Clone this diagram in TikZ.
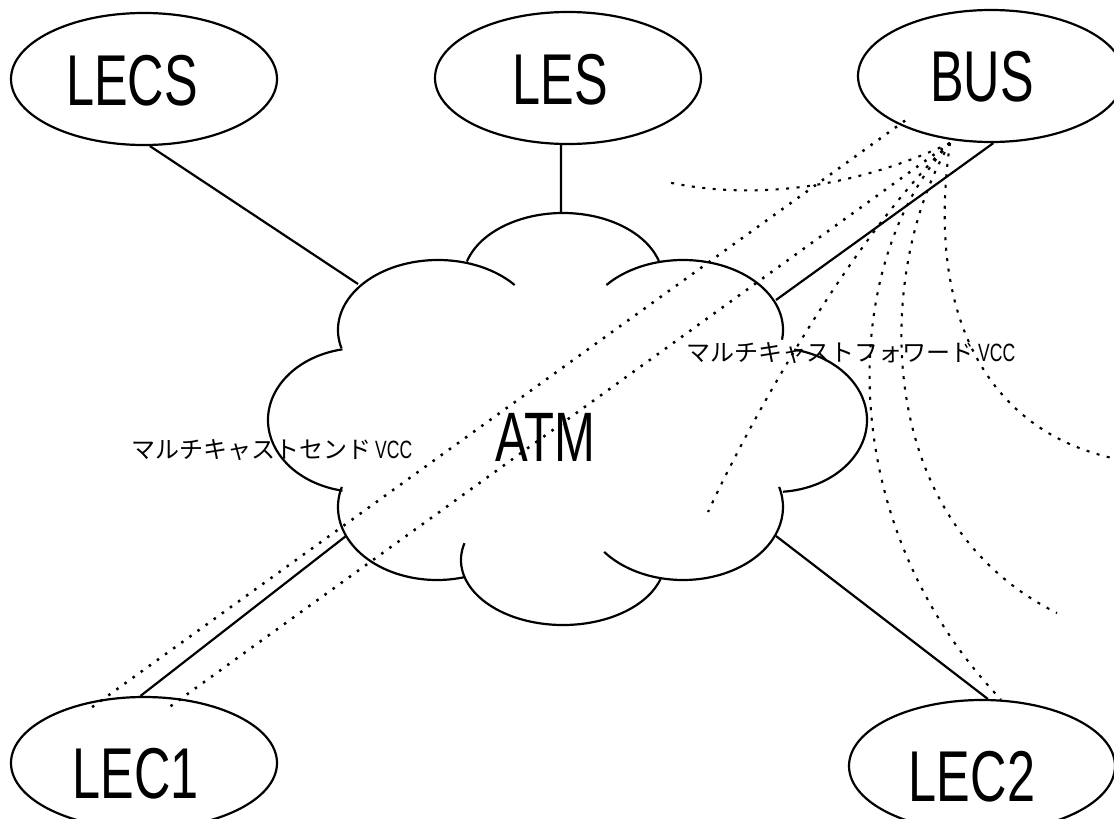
\documentclass[tikz,border=0pt]{standalone}
\usepackage{fontspec}
\newfontfamily\narrowfont[FakeStretch=0.7]{Liberation Sans}
\newfontfamily\jpfont{Noto Sans CJK JP}
\usetikzlibrary{shapes.geometric,calc}
\begin{document}
\begin{tikzpicture}[x=1pt,y=-1pt,
  ell/.style={draw, ellipse, line width=2.2pt, minimum width=266pt, minimum height=132pt, inner sep=0pt},
  big/.style={font=\narrowfont\fontsize{72}{72}\selectfont, inner sep=0pt},
  lbl/.style={font=\jpfont\fontsize{24}{24}\selectfont, inner sep=0pt, anchor=base west},
  wire/.style={line width=2.2pt},
  cloudline/.style={line width=2.2pt},
  dots/.style={line width=2.5pt, dash pattern=on 2.5pt off 7.5pt},
  fwddash/.style={line width=2.1pt, dash pattern=on 3pt off 7.5pt}
]
\useasboundingbox (0,0) rectangle (1114,819);

% ellipse nodes
\node[ell] (lecs) at (144,79) {};
\node[ell] (les) at (568,78) {};
\node[ell] (bus) at (991,76) {};
\node[ell] (lec1) at (144,763) {};
\node[ell] (lec2) at (982,766) {};

% cloud (ATM)
\coordinate (atm) at (565,420);
\foreach \cx/\cy/\rx/\ry/\a/\b in {
  563/280/100/67/196/344,
  438/330/100/70/165/320,
  360/420/92/72/259/101,
  437/507/99/73/196/74,
  563/560/102/65/195/17,
  683/507/100/73/142/-16,
  775/420/92/72/85/-78,
  683/330/100/70/8/-140}
  \draw[cloudline] ({\cx+\rx*cos(\a)},{\cy+\ry*sin(\a)}) arc[start angle=\a, end angle=\b, x radius=\rx, y radius=\ry];

% attachment points on the cloud
\coordinate (c-lecs) at (358,284);
\coordinate (c-les) at (561,213);
\coordinate (c-bus) at (776,300);
\coordinate (c-lec1) at (346,536);
\coordinate (c-lec2) at (776,536);

% other free ends
\coordinate (hub) at (950,143);
\coordinate (bus-in) at (910,117);
\coordinate (a-end) at (667,182);
\coordinate (c-end) at (708,512);
\coordinate (d2-end) at (1057,613);
\coordinate (d3-end) at (1112,458);

% solid connectors
\draw[wire] (lecs.-85) -- (c-lecs);
\draw[wire] (les.-96) -- (c-les);
\draw[wire] (bus.-88) -- (c-bus);
\draw[wire] (lec1.93) -- (c-lec1);
\draw[wire] (lec2.85) -- (c-lec2);

% multicast send VCCs
\draw[dots] ($(lec1.130)+(0,6)$) -- (bus-in);
\draw[dots] ($(lec1.68)+(0,9)$) -- (hub);

% multicast forward VCCs
\draw[fwddash] (hub) .. controls (850,190) and (750,200) .. (a-end);
\draw[fwddash] (hub) .. controls (860,230) and (760,400) .. (c-end);
\draw[fwddash] (hub) .. controls (840,260) and (830,520) .. (lec2.74);
\draw[fwddash] (hub) .. controls (875,270) and (870,520) .. (d2-end);
\draw[fwddash] (hub) .. controls (925,320) and (990,430) .. (d3-end);

% texts
\node[big] (lecs-t) at (132,81) {LECS};
\node[big] (les-t) at (560,80) {LES};
\node[big] (bus-t) at (982,77) {BUS};
\node[big] (lec1-t) at (136,774) {LEC1};
\node[big] (lec2-t) at (972,777) {LEC2};
\node[big, font=\narrowfont\fontsize{70}{70}\selectfont] (atm-t) at (545,437) {ATM};

\node[lbl] (fwd) at (686,361) {マルチキャストフォワード\hspace{4pt}{\narrowfont\fontsize{25}{25}\selectfont VCC}};
\node[lbl] (send) at (131,458) {マルチキャストセンド\hspace{4pt}{\narrowfont\fontsize{25}{25}\selectfont VCC}};
\end{tikzpicture}
\end{document}
